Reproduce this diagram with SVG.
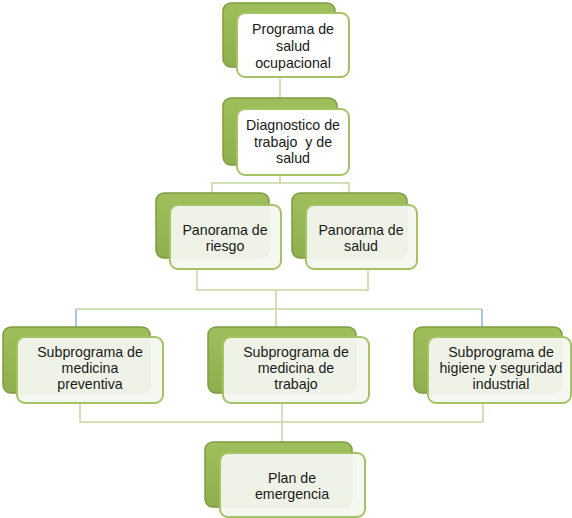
<svg xmlns="http://www.w3.org/2000/svg" width="572" height="518" viewBox="0 0 572 518">
<defs>
<linearGradient id="g" x1="0" y1="0" x2="0" y2="1">
<stop offset="0" stop-color="#9fbf5c"/>
<stop offset="1" stop-color="#8fae4d"/>
</linearGradient>
<style>
.back{fill:url(#g);stroke:#7f9c43;stroke-width:1.5}
.front{fill:#f4f6f0;fill-opacity:0.94;stroke:#a3c365;stroke-width:2}
.fw{fill:#ffffff;stroke:#a3c365;stroke-width:2}
.c{fill:none;stroke:#c4d79f;stroke-width:1.5}
.b{fill:none;stroke:#8eb4e3;stroke-width:1.5}
text{font-family:"Liberation Sans",Arial,sans-serif;font-size:14.2px;fill:#1a1a1a;text-anchor:middle;white-space:pre}
</style>
</defs>
<g id="connectors">
<path class="c" d="M280,77V98"/>
<path class="c" d="M280,175V183M212,193V183H349V193"/>
<path class="c" d="M197,269V290H368V269M276,290V327"/>
<path class="c" d="M76,309H482"/>
<path class="b" d="M76,309V327M482,309V327"/>
<path class="c" d="M80,403V422H483V403M282,403V442"/>
</g>
<g id="n1">
<rect class="back" x="223" y="3" width="112" height="64" rx="8"/>
<rect class="fw" x="237" y="13" width="112" height="64" rx="8"/>
<text x="293" y="34">Programa de</text>
<text x="293" y="51">salud</text>
<text x="293" y="68">ocupacional</text>
</g>
<g id="n2">
<rect class="back" x="223" y="98" width="114" height="67" rx="8"/>
<rect class="fw" x="237" y="109" width="112" height="66" rx="8"/>
<text x="293" y="130">Diagnostico de</text>
<text x="293" y="147" xml:space="preserve">trabajo  y de</text>
<text x="293" y="163">salud</text>
</g>
<g id="n3">
<rect class="back" x="156" y="193" width="113" height="65" rx="8"/>
<rect class="front" x="170" y="205" width="111" height="64" rx="8"/>
<text x="225" y="235">Panorama de</text>
<text x="225" y="251">riesgo</text>
</g>
<g id="n4">
<rect class="back" x="292" y="193" width="115" height="65" rx="8"/>
<rect class="front" x="306" y="205" width="111" height="64" rx="8"/>
<text x="361" y="235">Panorama de</text>
<text x="361" y="251">salud</text>
</g>
<g id="n5">
<rect class="back" x="3" y="327" width="147" height="66" rx="8"/>
<rect class="front" x="17" y="337" width="146" height="66" rx="8"/>
<text x="90" y="357">Subprograma de</text>
<text x="90" y="373">medicina</text>
<text x="90" y="389">preventiva</text>
</g>
<g id="n6">
<rect class="back" x="208" y="327" width="148" height="66" rx="8"/>
<rect class="front" x="223" y="337" width="146" height="66" rx="8"/>
<text x="296" y="357">Subprograma de</text>
<text x="296" y="373">medicina de</text>
<text x="296" y="389">trabajo</text>
</g>
<g id="n7">
<rect class="back" x="414" y="327" width="148" height="66" rx="8"/>
<rect class="front" x="428" y="337" width="143" height="66" rx="8"/>
<text x="501" y="357">Subprograma de</text>
<text x="501" y="373">higiene y seguridad</text>
<text x="501" y="389">industrial</text>
</g>
<g id="n8">
<rect class="back" x="205" y="442" width="147" height="65" rx="8"/>
<rect class="front" x="220" y="453" width="145" height="64" rx="8"/>
<text x="292" y="483">Plan de</text>
<text x="292" y="499">emergencia</text>
</g>
</svg>
